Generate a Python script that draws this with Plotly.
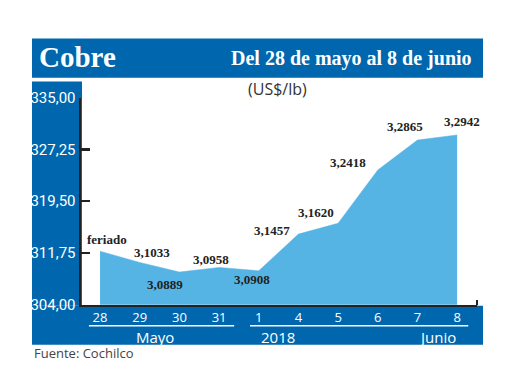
import plotly.graph_objects as go

# ---- data ----
days = ["28", "29", "30", "31", "1", "4", "5", "6", "7", "8"]
prices = [312.0, 310.33, 308.89, 309.58, 309.08, 314.57, 316.20, 324.18, 328.65, 329.42]
value_labels = ["feriado", "3,1033", "3,0889", "3,0958", "3,0908", "3,1457", "3,1620", "3,2418", "3,2865", "3,2942"]
y_ticks = [304.0, 311.75, 319.5, 327.25, 335.0]
month_labels = ["Mayo", "2018", "Junio"]
month_pos = [1.39, 4.49, 8.5]

# ---- style ----
W, H = 520, 390
DARK_BLUE = "#0067AE"
FILL_BLUE = "#56B4E4"
AXIS = "#222222"
label_offsets = [(7, 12), (12, 10), (-14, -12), (-8, 8), (-7, -9),
                 (-26, 4), (-22, 11), (-30, 7), (-12, 14), (5, 13)]

def px(x):
    return x / W

def py(y):
    return (H - y) / H

xs = list(range(len(days)))

fig = go.Figure()
fig.add_trace(go.Scatter(
    x=xs, y=prices, mode="lines", fill="tozeroy",
    fillcolor=FILL_BLUE, line=dict(color=FILL_BLUE, width=0.5),
    hoverinfo="skip", showlegend=False,
))

shapes = [
    # title bar
    dict(type="rect", xref="paper", yref="paper", x0=px(32), x1=px(483), y0=py(72), y1=py(31),
         fillcolor=DARK_BLUE, line=dict(width=0), layer="below"),
    # left column
    dict(type="rect", xref="paper", yref="paper", x0=px(32), x1=px(82), y0=py(311), y1=py(76),
         fillcolor=DARK_BLUE, line=dict(width=0), layer="below"),
    # bottom band
    dict(type="rect", xref="paper", yref="paper", x0=px(32), x1=px(483), y0=py(352), y1=py(311),
         fillcolor=DARK_BLUE, line=dict(width=0), layer="below"),
    # right hook
    dict(type="line", xref="paper", yref="paper", x0=px(477), x1=px(477), y0=py(310.5), y1=py(305),
         line=dict(color=AXIS, width=2)),
    # group underlines
    dict(type="line", xref="x", yref="paper", x0=-0.28, x1=3.38, y0=py(332), y1=py(332),
         line=dict(color="white", width=1.5)),
    dict(type="line", xref="x", yref="paper", x0=3.78, x1=9.28, y0=py(332), y1=py(332),
         line=dict(color="white", width=1.5)),
]

annotations = [
    dict(text="<b>Cobre</b>", xref="paper", yref="paper", x=px(37), y=py(50), xanchor="left",
         yanchor="middle", showarrow=False,
         font=dict(family="Liberation Serif, DejaVu Serif, serif", size=29, color="white")),
    dict(text="<b>Del 28 de mayo al 8 de junio</b>", xref="paper", yref="paper", x=px(474), y=py(52),
         xanchor="right", yanchor="middle", showarrow=False,
         font=dict(family="Liberation Serif, DejaVu Serif, serif", size=20, color="white")),
    dict(text="(US$/lb)", xref="paper", yref="paper", x=px(277), y=py(84), xanchor="center",
         yanchor="middle", showarrow=False,
         font=dict(family="Open Sans, Noto Sans, sans-serif", size=16, color="#333333")),
    dict(text="Fuente: Cochilco", xref="paper", yref="paper", x=px(32), y=py(361), xanchor="left",
         yanchor="middle", showarrow=False,
         font=dict(family="Open Sans, Noto Sans, sans-serif", size=13, color="#444444")),
]

for name, pos in zip(month_labels, month_pos):
    annotations.append(dict(text=name, xref="x", yref="paper", x=pos, y=py(344),
                            xanchor="center", yanchor="middle", showarrow=False,
                            font=dict(family="Open Sans, Noto Sans, sans-serif", size=15, color="white")))

for i, (lab, off) in enumerate(zip(value_labels, label_offsets)):
    annotations.append(dict(text="<b>" + lab + "</b>", x=xs[i], y=prices[i], xref="x", yref="y",
                            xshift=off[0], yshift=off[1], showarrow=False,
                            xanchor="center", yanchor="middle",
                            font=dict(family="Liberation Serif, DejaVu Serif, serif", size=13, color="#222222")))

fig.update_layout(
    width=W, height=H,
    margin=dict(l=0, r=0, t=0, b=0),
    paper_bgcolor="white", plot_bgcolor="white",
    separators=",.",
    shapes=shapes, annotations=annotations,
    xaxis=dict(domain=[px(81), px(477)], range=[-0.48, 9.5],
               tickmode="array", tickvals=xs, ticktext=days,
               showgrid=False, zeroline=False, showline=True, linecolor=AXIS, linewidth=2,
               ticks="", tickfont=dict(family="Open Sans, Noto Sans, sans-serif", size=13, color="white"),
               fixedrange=True),
    yaxis=dict(domain=[py(310), py(93)], range=[304, 335],
               tickmode="array", tickvals=y_ticks, tickformat=".2f",
               showgrid=False, zeroline=False, showline=True, linecolor=AXIS, linewidth=2.5,
               ticks="inside", ticklen=9, tickwidth=2.5, tickcolor=AXIS,
               tickfont=dict(family="Liberation Sans Narrow, Roboto, sans-serif", size=15, color="white"),
               fixedrange=True),
)

fig.write_html("out.html", config={"staticPlot": True},
               post_script="document.body.style.margin='0';document.body.style.overflow='hidden';")
